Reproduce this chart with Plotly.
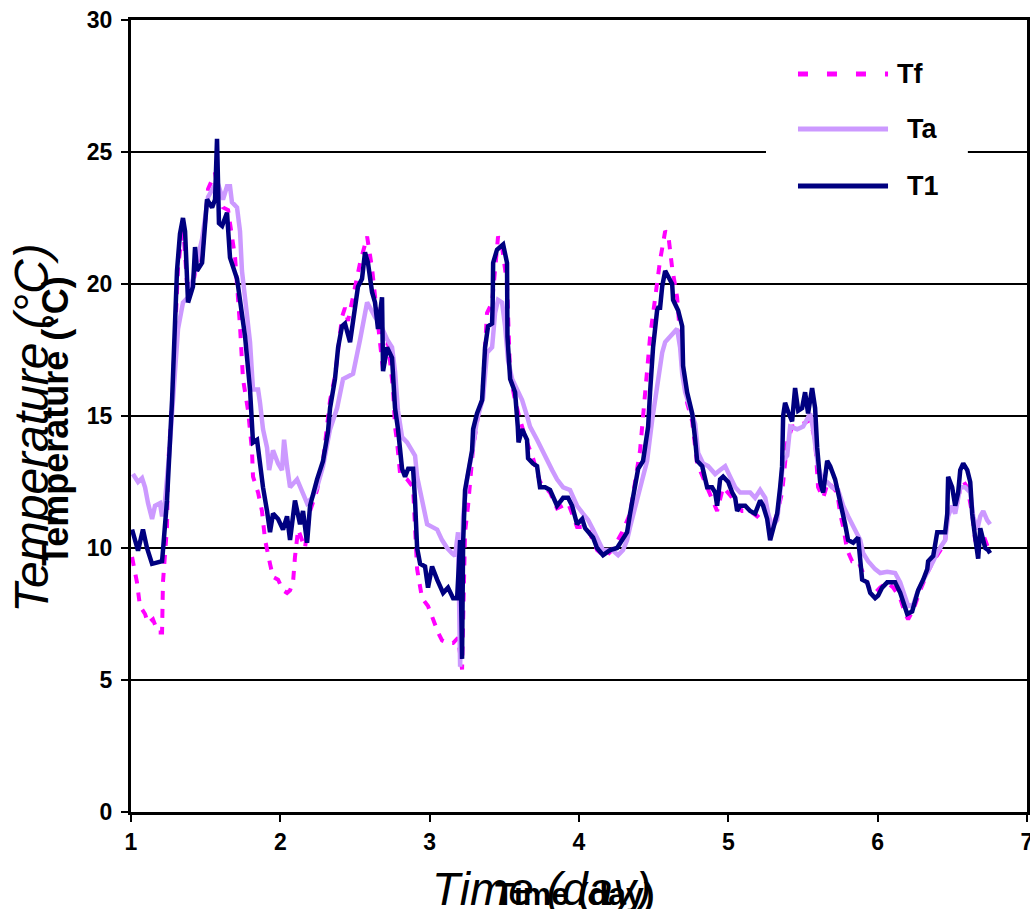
import plotly.graph_objects as go

# ---------------- data (time in days, temperature in °C) ----------------
t1_time = [1.007, 1.047, 1.080, 1.107, 1.141, 1.208, 1.214, 1.241, 1.275, 1.281, 1.308, 1.328, 1.348, 1.362,
           1.375, 1.382, 1.415, 1.429, 1.442, 1.476, 1.509, 1.543, 1.563, 1.576, 1.589, 1.610, 1.643, 1.663,
           1.710, 1.730, 1.764, 1.797, 1.817, 1.844, 1.864, 1.884, 1.911, 1.931, 1.951, 1.985, 2.018, 2.045,
           2.065, 2.098, 2.132, 2.152, 2.179, 2.199, 2.246, 2.286, 2.319, 2.333, 2.366, 2.387, 2.413, 2.433,
           2.467, 2.487, 2.520, 2.547, 2.567, 2.587, 2.614, 2.634, 2.654, 2.681, 2.688, 2.715, 2.748, 2.768,
           2.788, 2.815, 2.835, 2.856, 2.889, 2.902, 2.916, 2.936, 2.969, 2.989, 3.016, 3.050, 3.090, 3.123,
           3.157, 3.184, 3.204, 3.217, 3.224, 3.237, 3.257, 3.284, 3.291, 3.317, 3.351, 3.358, 3.371, 3.391,
           3.418, 3.422, 3.425, 3.451, 3.492, 3.518, 3.521, 3.539, 3.572, 3.590, 3.595, 3.619, 3.652, 3.659,
           3.692, 3.719, 3.739, 3.773, 3.806, 3.853, 3.894, 3.927, 3.954, 3.987, 4.021, 4.041, 4.094, 4.121,
           4.161, 4.208, 4.255, 4.289, 4.322, 4.342, 4.362, 4.396, 4.429, 4.463, 4.476, 4.496, 4.523, 4.530,
           4.543, 4.557, 4.577, 4.597, 4.624, 4.630, 4.664, 4.691, 4.697, 4.724, 4.758, 4.778, 4.791, 4.825,
           4.845, 4.858, 4.891, 4.912, 4.925, 4.945, 4.965, 4.999, 5.026, 5.046, 5.059, 5.079, 5.113, 5.146,
           5.179, 5.200, 5.213, 5.233, 5.260, 5.280, 5.300, 5.327, 5.347, 5.360, 5.367, 5.380, 5.401, 5.427,
           5.447, 5.468, 5.494, 5.514, 5.534, 5.561, 5.581, 5.595, 5.615, 5.635, 5.662, 5.682, 5.715, 5.749,
           5.782, 5.802, 5.836, 5.869, 5.883, 5.896, 5.930, 5.950, 5.983, 6.003, 6.030, 6.064, 6.097, 6.117,
           6.151, 6.171, 6.198, 6.231, 6.251, 6.271, 6.305, 6.332, 6.338, 6.372, 6.399, 6.432, 6.452, 6.466,
           6.472, 6.499, 6.519, 6.539, 6.553, 6.573, 6.600, 6.620, 6.633, 6.653, 6.673, 6.687, 6.707, 6.720,
           6.740, 6.753]
t1_vals = [10.7, 9.9, 10.7, 10.0, 9.4, 9.5, 9.9, 11.8, 15.6, 16.7, 20.5, 21.9, 22.5, 22.0,
           19.8, 19.3, 19.9, 21.4, 20.5, 20.8, 23.2, 22.9, 23.2, 25.5, 22.3, 22.2, 22.7, 21.0,
           20.2, 19.3, 18.0, 16.0, 14.0, 14.1, 13.1, 12.3, 11.4, 10.6, 11.3, 11.1, 10.7, 11.2,
           10.3, 11.8, 10.9, 11.4, 10.2, 11.6, 12.6, 13.3, 14.4, 15.3, 16.4, 17.6, 18.4, 18.5,
           17.8, 18.5, 19.9, 20.2, 21.2, 20.8, 19.7, 19.3, 18.3, 19.5, 16.7, 17.6, 17.2, 15.3,
           14.5, 13.0, 12.7, 13.0, 13.0, 11.8, 10.0, 9.4, 9.3, 8.5, 9.3, 8.8, 8.3, 8.5,
           8.1, 8.1, 10.3, 5.8, 10.2, 12.2, 12.8, 13.7, 14.5, 15.1, 15.6, 16.3, 17.6, 18.4,
           18.5, 19.3, 20.8, 21.3, 21.5, 20.8, 18.0, 16.4, 15.9, 14.6, 14.0, 14.5, 14.1, 13.4,
           13.2, 13.1, 12.3, 12.3, 12.2, 11.6, 11.9, 11.9, 11.6, 10.9, 11.1, 10.75, 10.4, 10.0,
           9.73, 9.92, 10.0, 10.3, 10.6, 11.3, 11.9, 13.0, 13.3, 14.6, 15.9, 17.6, 19.0, 19.1,
           19.1, 19.9, 20.5, 20.3, 20.0, 19.4, 19.0, 18.4, 16.9, 15.9, 15.1, 14.1, 13.3, 13.1,
           12.7, 12.3, 12.3, 12.1, 11.6, 12.6, 12.7, 12.5, 12.1, 11.9, 11.4, 11.6, 11.6, 11.4,
           11.3, 11.6, 11.8, 11.6, 11.1, 10.3, 10.7, 11.3, 12.3, 13.1, 15.0, 15.5, 15.15, 14.8,
           16.06, 15.2, 15.3, 15.9, 15.1, 16.06, 15.3, 13.8, 12.5, 12.1, 13.3, 13.1, 12.6, 11.8,
           10.9, 10.3, 10.2, 10.4, 9.5, 8.8, 8.7, 8.3, 8.1, 8.2, 8.5, 8.7, 8.7, 8.7,
           8.3, 7.9, 7.5, 7.6, 8.0, 8.4, 8.8, 9.2, 9.5, 9.7, 10.6, 10.6, 10.6, 11.3,
           12.7, 12.3, 11.6, 12.1, 12.95, 13.2, 12.95, 12.5, 11.3, 10.4, 9.6, 10.75, 10.2, 10.0,
           9.92, 9.8]

ta_time = [1.013, 1.047, 1.074, 1.094, 1.114, 1.141, 1.161, 1.194, 1.208, 1.228, 1.255, 1.285, 1.315, 1.348,
           1.382, 1.415, 1.476, 1.516, 1.576, 1.616, 1.643, 1.663, 1.676, 1.710, 1.730, 1.743, 1.764, 1.784,
           1.797, 1.817, 1.851, 1.864, 1.884, 1.911, 1.925, 1.951, 1.978, 1.985, 2.011, 2.025, 2.045, 2.065,
           2.112, 2.145, 2.179, 2.212, 2.246, 2.286, 2.333, 2.380, 2.420, 2.453, 2.487, 2.534, 2.581, 2.601,
           2.634, 2.668, 2.715, 2.748, 2.768, 2.788, 2.815, 2.849, 2.869, 2.902, 2.916, 2.949, 2.983, 3.016,
           3.050, 3.083, 3.117, 3.150, 3.170, 3.190, 3.204, 3.224, 3.251, 3.284, 3.317, 3.358, 3.384, 3.418,
           3.438, 3.458, 3.485, 3.505, 3.525, 3.552, 3.585, 3.619, 3.652, 3.672, 3.719, 3.753, 3.793, 3.820,
           3.853, 3.894, 3.940, 3.987, 4.027, 4.061, 4.094, 4.128, 4.161, 4.222, 4.262, 4.295, 4.322, 4.342,
           4.376, 4.409, 4.456, 4.490, 4.523, 4.543, 4.557, 4.577, 4.610, 4.657, 4.677, 4.691, 4.711, 4.744,
           4.778, 4.798, 4.831, 4.865, 4.912, 4.945, 4.979, 5.012, 5.046, 5.079, 5.146, 5.179, 5.213, 5.247,
           5.267, 5.293, 5.327, 5.347, 5.367, 5.394, 5.414, 5.461, 5.501, 5.548, 5.568, 5.601, 5.628, 5.662,
           5.695, 5.735, 5.769, 5.802, 5.849, 5.883, 5.903, 5.936, 5.983, 6.017, 6.064, 6.117, 6.151, 6.184,
           6.204, 6.238, 6.265, 6.298, 6.332, 6.372, 6.405, 6.452, 6.472, 6.499, 6.519, 6.553, 6.586, 6.620,
           6.640, 6.667, 6.687, 6.707, 6.733, 6.753]
ta_vals = [12.8, 12.5, 12.65, 12.3, 11.7, 11.1, 11.6, 11.7, 11.2, 11.8, 13.5, 16.0, 18.3, 19.3,
           19.5, 20.2, 21.7, 23.3, 23.9, 23.2, 23.7, 23.7, 23.1, 22.9, 22.0, 20.5, 19.5, 18.75,
           17.8, 16.0, 16.0, 15.5, 14.5, 13.8, 12.95, 13.7, 13.3, 13.2, 12.95, 14.1, 13.1, 12.3,
           12.6, 12.2, 11.7, 11.9, 12.3, 13.1, 14.5, 15.3, 16.4, 16.5, 16.6, 17.9, 19.3, 19.1,
           18.75, 18.5, 17.9, 17.6, 16.7, 15.2, 14.2, 14.0, 13.8, 13.5, 12.7, 11.7, 10.9, 10.8,
           10.7, 10.3, 10.0, 9.8, 9.7, 10.6, 5.5, 11.2, 12.6, 13.6, 14.85, 15.7, 17.4, 17.6,
           18.9, 19.4, 19.3, 18.4, 17.1, 16.4, 16.0, 15.6, 15.0, 14.6, 14.1, 13.7, 13.2, 12.95,
           12.6, 12.3, 12.2, 11.6, 11.3, 11.06, 10.7, 10.3, 9.92, 9.92, 9.73, 9.92, 10.3, 10.8,
           11.6, 12.3, 13.3, 14.85, 16.1, 16.7, 17.4, 17.8, 18.0, 18.3, 17.6, 16.6, 15.9, 15.3,
           14.7, 13.6, 13.2, 13.1, 12.8, 12.95, 13.1, 12.7, 12.3, 12.1, 12.1, 11.9, 12.2, 11.9,
           11.3, 10.8, 11.06, 12.1, 13.3, 13.5, 14.6, 14.5, 14.6, 15.1, 14.5, 13.1, 12.6, 12.5,
           12.3, 12.2, 11.6, 11.2, 10.7, 10.3, 9.8, 9.5, 9.2, 9.05, 9.1, 9.05, 8.7, 8.1,
           7.8, 7.85, 8.3, 8.7, 9.05, 9.5, 9.9, 10.3, 11.2, 11.6, 11.3, 12.3, 12.3, 12.1,
           11.2, 10.7, 11.2, 11.4, 11.06, 10.9]

tf_time = [1.007, 1.040, 1.060, 1.094, 1.114, 1.147, 1.181, 1.208, 1.214, 1.241, 1.248, 1.275, 1.315, 1.348,
           1.375, 1.415, 1.442, 1.476, 1.516, 1.543, 1.563, 1.589, 1.616, 1.650, 1.697, 1.730, 1.750, 1.784,
           1.810, 1.817, 1.851, 1.877, 1.898, 1.931, 1.951, 1.985, 2.018, 2.045, 2.065, 2.085, 2.098, 2.119,
           2.165, 2.199, 2.246, 2.286, 2.333, 2.366, 2.413, 2.433, 2.453, 2.534, 2.581, 2.614, 2.654, 2.688,
           2.721, 2.755, 2.768, 2.782, 2.802, 2.849, 2.889, 2.916, 2.949, 2.989, 3.023, 3.056, 3.083, 3.123,
           3.157, 3.190, 3.217, 3.237, 3.257, 3.291, 3.324, 3.351, 3.384, 3.418, 3.458, 3.485, 3.518, 3.539,
           3.572, 3.605, 3.652, 3.692, 3.739, 3.806, 3.853, 3.927, 3.987, 4.054, 4.121, 4.175, 4.222, 4.289,
           4.342, 4.409, 4.476, 4.543, 4.577, 4.597, 4.624, 4.657, 4.691, 4.724, 4.758, 4.791, 4.858, 4.925,
           4.965, 5.012, 5.092, 5.146, 5.193, 5.247, 5.280, 5.327, 5.360, 5.394, 5.414, 5.427, 5.481, 5.548,
           5.581, 5.601, 5.635, 5.668, 5.729, 5.749, 5.769, 5.796, 5.829, 5.869, 5.903, 5.950, 5.983, 6.017,
           6.064, 6.104, 6.151, 6.184, 6.204, 6.238, 6.285, 6.332, 6.372, 6.419, 6.452, 6.472, 6.506, 6.533,
           6.566, 6.600, 6.633, 6.653, 6.673, 6.700, 6.720, 6.740]
tf_vals = [9.66, 8.7, 7.8, 7.5, 7.15, 7.3, 6.8, 6.8, 8.7, 10.8, 13.1, 15.5, 20.6, 22.3,
           20.0, 20.0, 20.8, 21.0, 23.6, 23.9, 24.2, 23.3, 22.9, 22.8, 21.0, 18.4, 16.4, 15.2,
           13.7, 12.7, 12.1, 11.4, 10.3, 9.4, 8.9, 8.8, 8.4, 8.3, 8.4, 8.7, 9.66, 10.7,
           10.0, 11.4, 12.2, 13.3, 15.6, 16.5, 18.75, 19.1, 18.6, 20.8, 21.8, 20.6, 18.4, 16.7,
           17.8, 16.0, 14.6, 14.0, 12.8, 12.6, 12.3, 9.2, 8.1, 7.8, 7.3, 6.8, 6.5, 6.4,
           6.4, 6.6, 5.4, 10.6, 11.6, 13.8, 15.0, 15.6, 18.9, 19.3, 21.8, 21.4, 20.0, 16.5,
           15.6, 14.85, 14.0, 13.4, 12.5, 12.1, 11.5, 11.7, 10.8, 10.8, 9.92, 9.66, 9.92, 10.6,
           11.3, 13.7, 18.0, 20.9, 22.0, 21.9, 20.6, 19.5, 17.0, 15.5, 14.8, 13.2, 12.3, 11.4,
           12.3, 12.0, 11.4, 11.4, 11.2, 11.5, 10.6, 11.3, 12.1, 14.0, 14.35, 14.6, 14.65, 14.85,
           14.1, 12.3, 11.9, 12.5, 12.1, 11.3, 10.8, 9.92, 9.5, 9.5, 9.05, 8.4, 8.3, 8.5,
           8.7, 8.5, 8.1, 7.5, 7.3, 7.65, 8.4, 9.05, 9.5, 9.9, 10.3, 11.4, 11.4, 11.7,
           12.6, 12.3, 11.3, 10.3, 10.0, 10.6, 10.3, 10.0]

series_names = ["Tf", "Ta", "T1"]
series_colors = ["#FF00FF", "#CC99FF", "#000080"]
x_ticks = [1, 2, 3, 4, 5, 6, 7]
y_ticks = [0, 5, 10, 15, 20, 25, 30]

FONT = "Liberation Sans, Arial, sans-serif"

fig = go.Figure()
fig.add_trace(go.Scatter(x=tf_time, y=tf_vals, mode="lines", name=series_names[0],
                         line=dict(color=series_colors[0], width=4, dash="9px,9px")))
fig.add_trace(go.Scatter(x=ta_time, y=ta_vals, mode="lines", name=series_names[1],
                         line=dict(color=series_colors[1], width=4.5)))
fig.add_trace(go.Scatter(x=t1_time, y=t1_vals, mode="lines", name=series_names[2],
                         line=dict(color=series_colors[2], width=4.5)))

fig.update_layout(
    width=1030, height=909,
    margin=dict(l=131, r=3, t=20, b=97, autoexpand=False),
    paper_bgcolor="white", plot_bgcolor="white",
    showlegend=False,
    font=dict(family=FONT, color="black"),
)
fig.update_xaxes(range=[1, 7], tickvals=x_ticks, showgrid=False, zeroline=False, automargin=False,
                 showline=True, linecolor="black", linewidth=3, mirror=True,
                 ticks="outside", ticklen=7, tickwidth=2, tickcolor="black", ticklabeloverflow="allow",
                 tickfont=dict(family=FONT, size=23, color="black", weight="bold"))
fig.update_yaxes(range=[0, 30], tickvals=y_ticks, showgrid=True, gridcolor="black", gridwidth=2,
                 zeroline=False, automargin=False, showline=True, linecolor="black", linewidth=3, mirror=True,
                 ticks="outside", ticklen=7, tickwidth=2, tickcolor="black", ticklabelstandoff=4,
                 ticklabeloverflow="allow",
                 tickfont=dict(family=FONT, size=23, color="black", weight="bold"))

# axis titles (a large italic one and a smaller bold one, overlapping as in the original)
annos = [
    dict(text="Temperature (°C)", x=-0.1105, y=0.485, textangle=-90,
         font=dict(family=FONT, size=48, style="italic")),
    dict(text="Temperature (°C)", x=-0.0842, y=0.493, textangle=-90,
         font=dict(family=FONT, size=36, weight="bold")),
    dict(text="Time (day)", x=(541 - 131) / 896, y=-0.0975,
         font=dict(family=FONT, size=46, style="italic")),
    dict(text="Time (day)", x=(574 - 131) / 896, y=-0.1035,
         font=dict(family=FONT, size=32, weight="bold")),
]
# legend labels
leg_y = [0.9318, 0.8624, 0.7904]
leg_text_x = [0.8527, 0.8638, 0.8638]
for name, yy, xx in zip(series_names, leg_y, leg_text_x):
    annos.append(dict(text=name, x=xx, y=yy, xanchor="left",
                      font=dict(family=FONT, size=27, weight="bold")))
for a in annos:
    a.update(xref="paper", yref="paper", showarrow=False, font_color="black")
    a.setdefault("xanchor", "center")
    a["yanchor"] = "middle"
fig.update_layout(annotations=annos)

# legend box and line samples
shapes = [dict(type="rect", xref="paper", yref="paper", x0=0.7087, x1=0.934, y0=0.754, y1=0.975,
               fillcolor="white", line=dict(width=0), layer="above")]
dashes = ["10px,19px", "solid", "solid"]
for yy, col, ds in zip(leg_y, series_colors, dashes):
    shapes.append(dict(type="line", xref="paper", yref="paper", x0=0.7444, x1=0.8449, y0=yy, y1=yy,
                       line=dict(color=col, width=5, dash=ds), layer="above"))
fig.update_layout(shapes=shapes)

# remove the default page margin so the figure sits at the window's top-left corner
fig.write_html("out.html", config={"displayModeBar": False},
               post_script="document.body.style.margin='0';document.body.style.overflow='hidden';")
